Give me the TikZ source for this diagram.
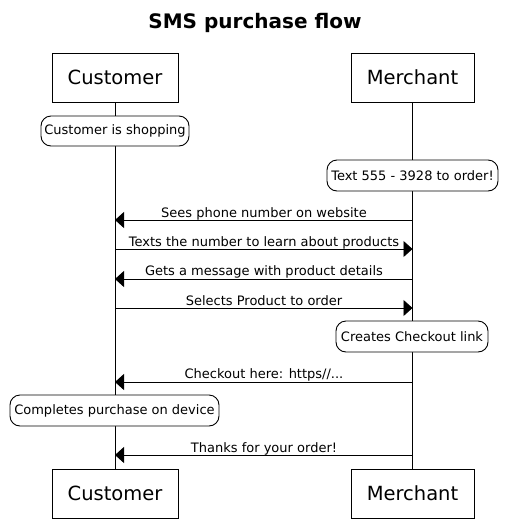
\documentclass[tikz,border=0pt]{standalone}
\usepackage{fontspec}
\setmainfont{DejaVu Sans}
\usetikzlibrary{arrows.meta}
\begin{document}
\begin{tikzpicture}[x=1pt,y=-1pt,
  partbox/.style={draw,line width=0.9pt,fill=white,minimum height=49pt,inner sep=0pt,font=\fontsize{19.5}{22}\selectfont},
  notebox/.style={draw,line width=0.9pt,fill=white,rounded corners=10pt,minimum height=31pt,inner sep=0pt,font=\fontsize{13}{15}\selectfont},
  life/.style={line width=0.9pt},
  msg/.style={line width=0.9pt,-{Triangle[length=9pt,width=16pt]}},
  lbl/.style={anchor=base,inner sep=0pt,font=\fontsize{13}{15}\selectfont}]
\useasboundingbox (0,0) rectangle (507,528);
\node[font=\bfseries\fontsize{20}{24}\selectfont] (title) at (255,22.5) {SMS purchase flow};
% participants
\node[partbox,minimum width=126pt] (ct) at (115,77.5) {Customer};
\node[partbox,minimum width=123pt] (mt) at (412.5,77.5) {Merchant};
\node[partbox,minimum width=126pt] (cb) at (115,493.5) {Customer};
\node[partbox,minimum width=123pt] (mb) at (412.5,493.5) {Merchant};
% lifelines
\draw[life] (ct.south) -- (cb.north);
\draw[life] (mt.south) -- (mb.north);
% lifeline points
\coordinate (c1) at (115,220); \coordinate (m1) at (412.5,220);
\coordinate (c2) at (115,249); \coordinate (m2) at (412.5,249);
\coordinate (c3) at (115,279); \coordinate (m3) at (412.5,279);
\coordinate (c4) at (115,308); \coordinate (m4) at (412.5,308);
\coordinate (c5) at (115,382); \coordinate (m5) at (412.5,382);
\coordinate (c6) at (115,455); \coordinate (m6) at (412.5,455);
% notes
\node[notebox,minimum width=148pt,minimum height=30pt] (n1) at (115,131) {Customer is shopping};
\node[notebox,minimum width=171pt] (n2) at (412.5,175.5) {Text 555 - 3928 to order!};
\node[notebox,minimum width=152pt] (n3) at (412,336.5) {Creates Checkout link};
\node[notebox,minimum width=209pt] (n4) at (114.5,410.5) {Completes purchase on device};
% messages
\draw[msg] (m1) -- (c1);
\node[lbl] (l1) at (264,217) {Sees phone number on website};
\draw[msg] (c2) -- (m2);
\node[lbl] (l2) at (264,246) {Texts the number to learn about products};
\draw[msg] (m3) -- (c3);
\node[lbl] (l3) at (264,275.5) {Gets a message with product details};
\draw[msg] (c4) -- (m4);
\node[lbl] (l4) at (264,305) {Selects Product to order};
\draw[msg] (m5) -- (c5);
\node[lbl] (l5) at (264,378.5) {Checkout here: https//...};
\draw[msg] (m6) -- (c6);
\node[lbl] (l6) at (264,452) {Thanks for your order!};
\end{tikzpicture}
\end{document}
